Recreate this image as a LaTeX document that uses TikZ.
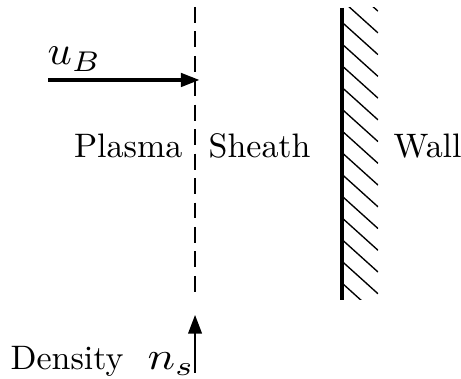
\documentclass[tikz,border=0pt]{standalone}
\usepackage{graphicx}
\usetikzlibrary{arrows.meta}

\begin{document}
\begin{tikzpicture}[
    lbl/.style={inner sep=0pt},
    edge/.style={line width=0.6pt, dash pattern=on 4.7pt off 2.5pt},
    flow/.style={line width=0.9pt, -{Triangle[length=5.5pt, width=4pt]}},
    rise/.style={line width=0.6pt, -{Triangle[length=5.5pt, width=4pt]}},
    hatch/.style={line width=0.4pt}
]
  \useasboundingbox (0,0) rectangle (4.772,3.923);

  % Sheath edge
  \coordinate (edgetop) at (2.019, 3.851);
  \coordinate (edgebot) at (2.019, 0.901);
  \draw[edge] (edgetop) -- (edgebot);

  % Bohm velocity
  \coordinate (ubstart) at (0.497, 3.095);
  \coordinate (ubend)   at (2.065, 3.095);
  \draw[flow] (ubstart) -- (ubend);
  \node[lbl, anchor=base west] (ub) at (0.487, 3.251) {\scalebox{1.25}[1.2]{$u_B$}};

  % Region labels
  \node[lbl, anchor=base east] (plasma) at (1.894, 2.288) {Plasma};
  \node[lbl, anchor=base west] (sheath) at (2.153, 2.288) {Sheath};
  \node[lbl, anchor=base west] (wall)   at (4.068, 2.288) {Wall};

  % Wall
  \coordinate (walltop) at (3.540, 3.841);
  \coordinate (wallbot) at (3.540, 0.818);
  \begin{scope}
    \clip (3.540, 0.818) rectangle (3.913, 3.841);
    \foreach \k in {-1,...,15}
      \draw[hatch] (3.540, 0.993+\k*0.225) -- ++(0.373, -0.336);
  \end{scope}
  \draw[line width=0.9pt] (walltop) -- (wallbot);

  % Density at sheath edge
  \node[lbl, anchor=base west] (dens) at (0.104, 0.098) {Density};
  \node[lbl, anchor=base west] (ns)   at (1.522, 0.098) {\scalebox{1.35}[1.15]{$n_s$}};
  \coordinate (nsbot) at (2.019, 0.062);
  \coordinate (nstop) at (2.019, 0.663);
  \draw[rise] (nsbot) -- (nstop);
\end{tikzpicture}
\end{document}
